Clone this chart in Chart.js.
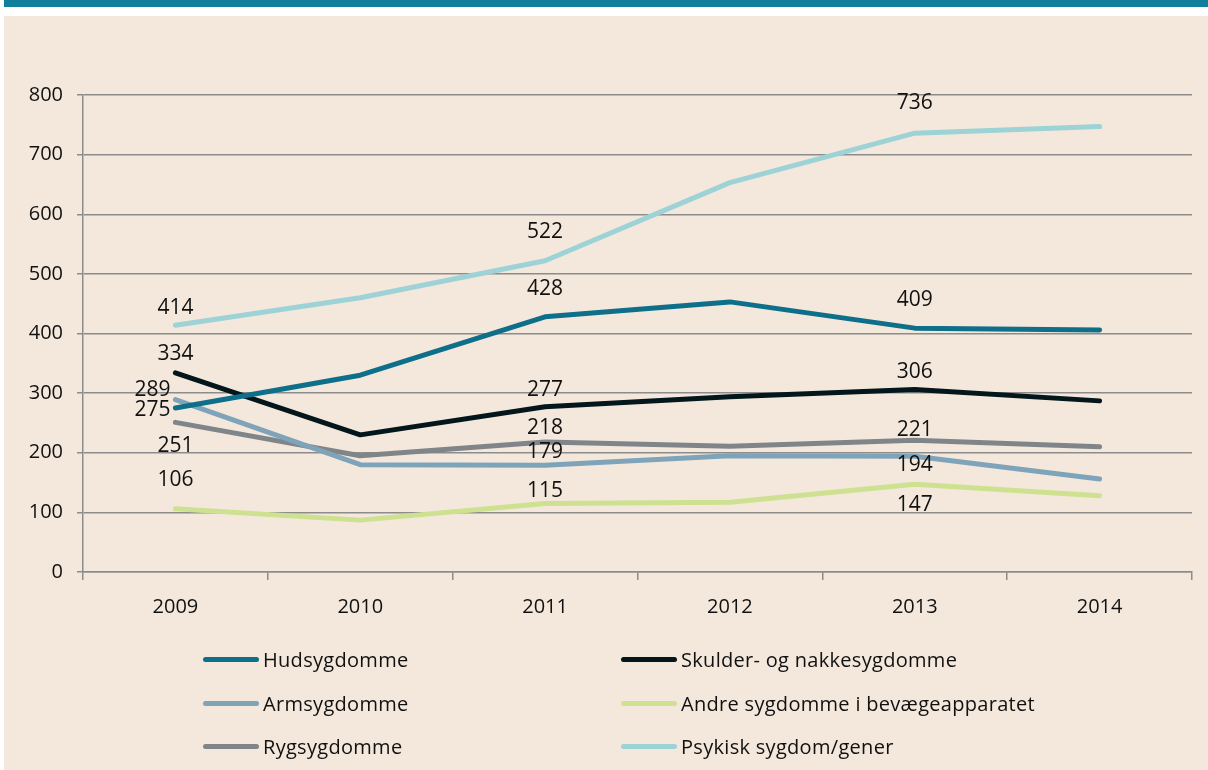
<!DOCTYPE html>
<html>
<head>
<meta charset="utf-8">
<script src="https://cdn.jsdelivr.net/npm/chart.js@4.4.1/dist/chart.umd.min.js"></script>
<style>
body{margin:0;width:1208px;height:770px;background:#fff;overflow:hidden;font-family:"Open Sans",sans-serif;}
#bar{position:absolute;left:4px;top:0;width:1204px;height:7px;background:#0f7f9c;}
#panel{position:absolute;left:4px;top:16px;width:1204px;height:754px;background:#f4e8dc;}
#wrap{position:absolute;left:0;top:0;width:1204px;height:754px;}
.lg{position:absolute;height:24px;font-size:20px;color:#111;line-height:24px;white-space:nowrap;letter-spacing:0.3px;}
.lg span{position:absolute;left:0;top:9px;width:56px;height:5px;border-radius:3px;}
.lg b{position:absolute;left:60px;top:0;font-weight:normal;}
</style>
</head>
<body>
<div id="bar"></div>
<div id="panel">
  <div id="wrap"><canvas id="chart"></canvas></div>
  <div id="legend"></div>
</div>
<script>
const years = ['2009', '2010', '2011', '2012', '2013', '2014'];
const seriesNames = ['Hudsygdomme', 'Skulder- og nakkesygdomme', 'Armsygdomme',
  'Andre sygdomme i bevægeapparatet', 'Rygsygdomme', 'Psykisk sygdom/gener'];
const hud = [275, 330, 428, 453, 409, 406];
const skulder = [334, 230, 277, 294, 306, 287];
const arm = [289, 180, 179, 195, 194, 156];
const andre = [106, 87, 115, 117, 147, 128];
const ryg = [251, 195, 218, 211, 221, 210];
const psykisk = [414, 460, 522, 653, 736, 747];
const yTicks = [0, 100, 200, 300, 400, 500, 600, 700, 800];
// which points carry a value label
const labelled = [0, 2, 4];

const colors = ['#0e6f8a', '#03161b', '#7fa4b9', '#cde191', '#80858a', '#9dd3d6'];
// label offsets [dx, dy] per series for the labelled points
const labelOffsets = [
  [[-23, 2], [0, -28], [0, -28]],
  [[0, -19], [0, -17], [0, -18]],
  [[-23, -10], [0, -13], [0, 9]],
  [[0, -29], [0, -12], [0, 21]],
  [[0, 24], [0, -14], [0, -10]],
  [[0, -17], [0, -29], [0, -30]]
];

const valueLabels = {
  id: 'valueLabels',
  afterDatasetsDraw(chart) {
    const c = chart.ctx;
    c.save();
    c.font = '21px "Open Sans"';
    c.fillStyle = '#111';
    c.textAlign = 'center';
    c.textBaseline = 'middle';
    chart.data.datasets.forEach((ds, i) => {
      const meta = chart.getDatasetMeta(i);
      labelled.forEach((idx, k) => {
        const p = meta.data[idx];
        const off = labelOffsets[i][k];
        c.fillText(ds.data[idx], p.x + off[0], p.y + off[1]);
      });
    });
    c.restore();
  }
};

const allSeries = [hud, skulder, arm, andre, ryg, psykisk];
const gridColor = '#8c8c8c';

const chart = new Chart(document.getElementById('chart'), {
  type: 'line',
  data: {
    labels: years,
    datasets: allSeries.map((d, i) => ({
      label: seriesNames[i],
      data: d,
      borderColor: colors[i],
      backgroundColor: colors[i],
      borderWidth: 5,
      pointRadius: 0,
      tension: 0,
      borderCapStyle: 'round',
      borderJoinStyle: 'round'
    }))
  },
  options: {
    responsive: true,
    maintainAspectRatio: false,
    animation: false,
    layout: { padding: { top: 79, right: 16, left: 0, bottom: 0 } },
    plugins: { legend: { display: false }, tooltip: { enabled: false } },
    scales: {
      x: {
        offset: true,
        grid: { offset: true, drawOnChartArea: false, drawTicks: true, tickLength: 8, color: gridColor, lineWidth: 1.5 },
        border: { color: gridColor, width: 1.5 },
        ticks: { color: '#111', font: { family: 'Open Sans', size: 20 }, padding: 15, maxRotation: 0 },
        afterFit(s) { s.height = 198; }
      },
      y: {
        min: 0,
        max: 800,
        afterBuildTicks(s) { s.ticks = yTicks.map(v => ({ value: v })); },
        grid: { color: gridColor, lineWidth: 1.5, tickLength: 6 },
        border: { color: gridColor, width: 1.5 },
        ticks: { color: '#111', font: { family: 'Open Sans', size: 20 }, padding: 14 },
        afterFit(s) { s.width = 79; }
      }
    }
  },
  plugins: [valueLabels]
});

// legend in two columns, built from the datasets
const legend = document.getElementById('legend');
chart.data.datasets.forEach((ds, i) => {
  const col = i % 2, row = Math.floor(i / 2);
  const el = document.createElement('div');
  el.className = 'lg';
  el.style.left = (col ? 617 : 199) + 'px';
  el.style.top = (632 + row * 43.5) + 'px';
  el.innerHTML = '<span style="background:' + ds.borderColor + '"></span><b>' + ds.label + '</b>';
  legend.appendChild(el);
});
</script>
</body>
</html>
